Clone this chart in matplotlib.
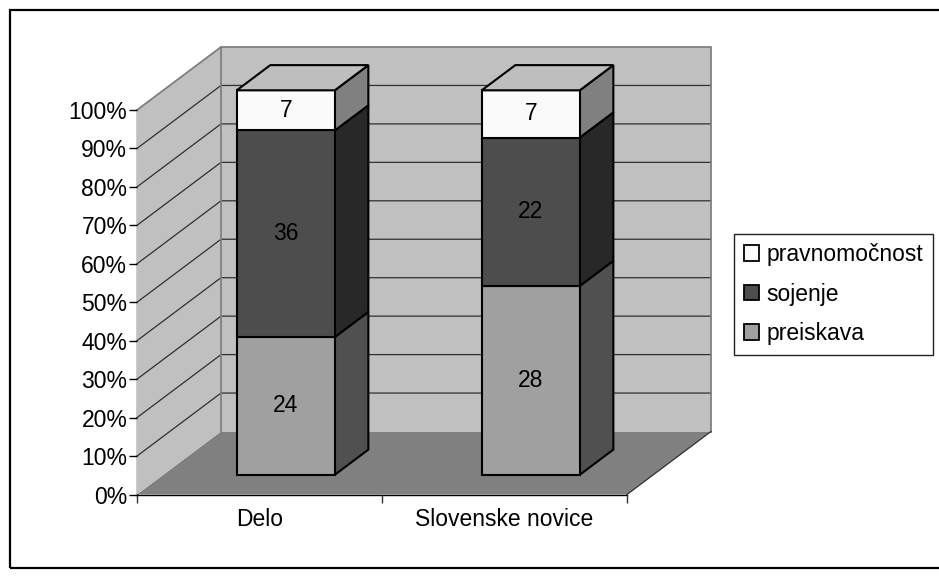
# Stacked 100% "3D" column chart, drawn by projecting the values onto a depth axis
import matplotlib
matplotlib.use('Agg')
import matplotlib.pyplot as plt
from matplotlib.patches import Polygon, Patch, Rectangle

plt.rcParams['font.family'] = ['Liberation Sans', 'DejaVu Sans']

# Data
papers = ['Delo', 'Slovenske novice']
series = ['preiskava', 'sojenje', 'pravnomočnost']
preiskava = [24, 28]
sojenje = [36, 22]
pravnomocnost = [7, 7]
yticks = list(range(0, 101, 10))

values = [preiskava, sojenje, pravnomocnost]
front_col = ['#A0A0A0', '#4D4D4D', '#FAFAFA']
side_col = ['#505050', '#282828', '#808080']
top_col = '#BEBEBE'

fig = plt.figure(figsize=(9.39, 5.76), dpi=100)
W, H = 939, 576

# axes = front plane of the chart (pixels from the reference)
x0, x1, y_top, y_bot = 137, 627, 110, 494.5
ax = fig.add_axes([x0 / W, 1 - y_bot / H, (x1 - x0) / W, (y_bot - y_top) / H])
ax.set_xlim(0, len(papers))
ax.set_ylim(0, 100)
ax.patch.set_visible(False)
for s in ['top', 'right']:
    ax.spines[s].set_visible(False)
for s in ['left', 'bottom']:
    ax.spines[s].set_linewidth(1)
    ax.spines[s].set_zorder(1)

# depth of the whole box, in data units
dx = 84 / 245
dy = 63 / 3.845


def proj(x, y, d):
    return (x + d * dx, y + d * dy)


def poly(points, fc, ec='none', lw=0, z=1):
    ax.add_patch(Polygon(points, closed=True, facecolor=fc, edgecolor=ec,
                         linewidth=lw, zorder=z, clip_on=False, joinstyle='miter'))


n = len(papers)
# floor and walls
poly([proj(0, 0, 0), proj(n, 0, 0), proj(n, 0, 1), proj(0, 0, 1)], '#808080')
poly([proj(0, 0, 0), proj(0, 100, 0), proj(0, 100, 1), proj(0, 0, 1)], '#C0C0C0', z=1.1)
poly([proj(0, 0, 1), proj(0, 100, 1), proj(n, 100, 1), proj(n, 0, 1)], '#C0C0C0', z=1.1)

# grid lines on the walls
for t in yticks[1:-1]:
    ax.plot(*zip(proj(0, t, 0), proj(0, t, 1), proj(n, t, 1)), color='#303030',
            lw=0.9, zorder=1.2, clip_on=False)
# wall outline
ax.plot(*zip(proj(0, 0, 1), proj(0, 100, 1), proj(n, 100, 1), proj(n, 0, 1)),
        color='#808080', lw=1.3, zorder=1.3, clip_on=False)
ax.plot(*zip(proj(0, 100, 0), proj(0, 100, 1)), color='#808080', lw=1.3, zorder=1.3, clip_on=False)
ax.plot(*zip(proj(n, 0, 0), proj(n, 0, 1)), color='#303030', lw=0.9, zorder=1.3, clip_on=False)

# bars
bar_w = 0.4
d_front, d_back = 0.3125, 0.7125
for i in range(n):
    left = i + 0.5 - bar_w / 2
    right = left + bar_w
    total = sum(v[i] for v in values)
    base = 0
    for k, v in enumerate(values):
        y_a = base
        y_b = base + v[i] / total * 100
        # side then front, black outlines
        poly([proj(right, y_a, d_front), proj(right, y_b, d_front),
              proj(right, y_b, d_back), proj(right, y_a, d_back)],
             side_col[k], 'black', 1.5, z=2 + k * 0.1)
        poly([proj(left, y_a, d_front), proj(right, y_a, d_front),
              proj(right, y_b, d_front), proj(left, y_b, d_front)],
             front_col[k], 'black', 1.5, z=2.5 + k * 0.1)
        tx, ty = proj(i + 0.5, (y_a + y_b) / 2, d_front)
        ax.text(tx, ty, str(v[i]), ha='center', va='center', fontsize=16.5,
                color='black', zorder=4)
        base = y_b
    poly([proj(left, 100, d_front), proj(right, 100, d_front),
          proj(right, 100, d_back), proj(left, 100, d_back)],
         top_col, 'black', 1.5, z=3)

# axes ticks
ax.set_yticks(yticks)
ax.set_yticklabels([f'{t}%' for t in yticks], fontsize=16.5)
ax.set_xticks(range(n + 1))
ax.set_xticklabels([])
ax.set_xticks([i + 0.5 for i in range(n)], minor=True)
ax.set_xticklabels(papers, minor=True, fontsize=16.5)
ax.tick_params(axis='x', which='minor', length=0, pad=10)
ax.tick_params(axis='x', which='major', length=6, width=1, color='#333333')
ax.tick_params(axis='y', length=6, width=1, pad=1)

# legend, runs off the right side as in the original
handles = [Patch(facecolor=front_col[k], edgecolor='black', linewidth=1.3) for k in [2, 1, 0]]
labels = [series[k] for k in [2, 1, 0]]
leg = fig.legend(handles, labels, loc='upper left', bbox_to_anchor=(734 / W, 1 - 233.5 / H),
                 fontsize=16.5, frameon=True, fancybox=False, edgecolor='#222222',
                 framealpha=1, borderaxespad=0, handlelength=0.65, handleheight=0.65,
                 handletextpad=0.35, labelspacing=0.72, borderpad=0.42)
leg.get_frame().set_linewidth(1)

# outer frame
fig.add_artist(Rectangle((9.5 / W, 1 - 568 / H), 1, 558 / H, transform=fig.transFigure,
                         fill=False, edgecolor='black', linewidth=1.6))

fig.savefig('out.png', dpi=100)
